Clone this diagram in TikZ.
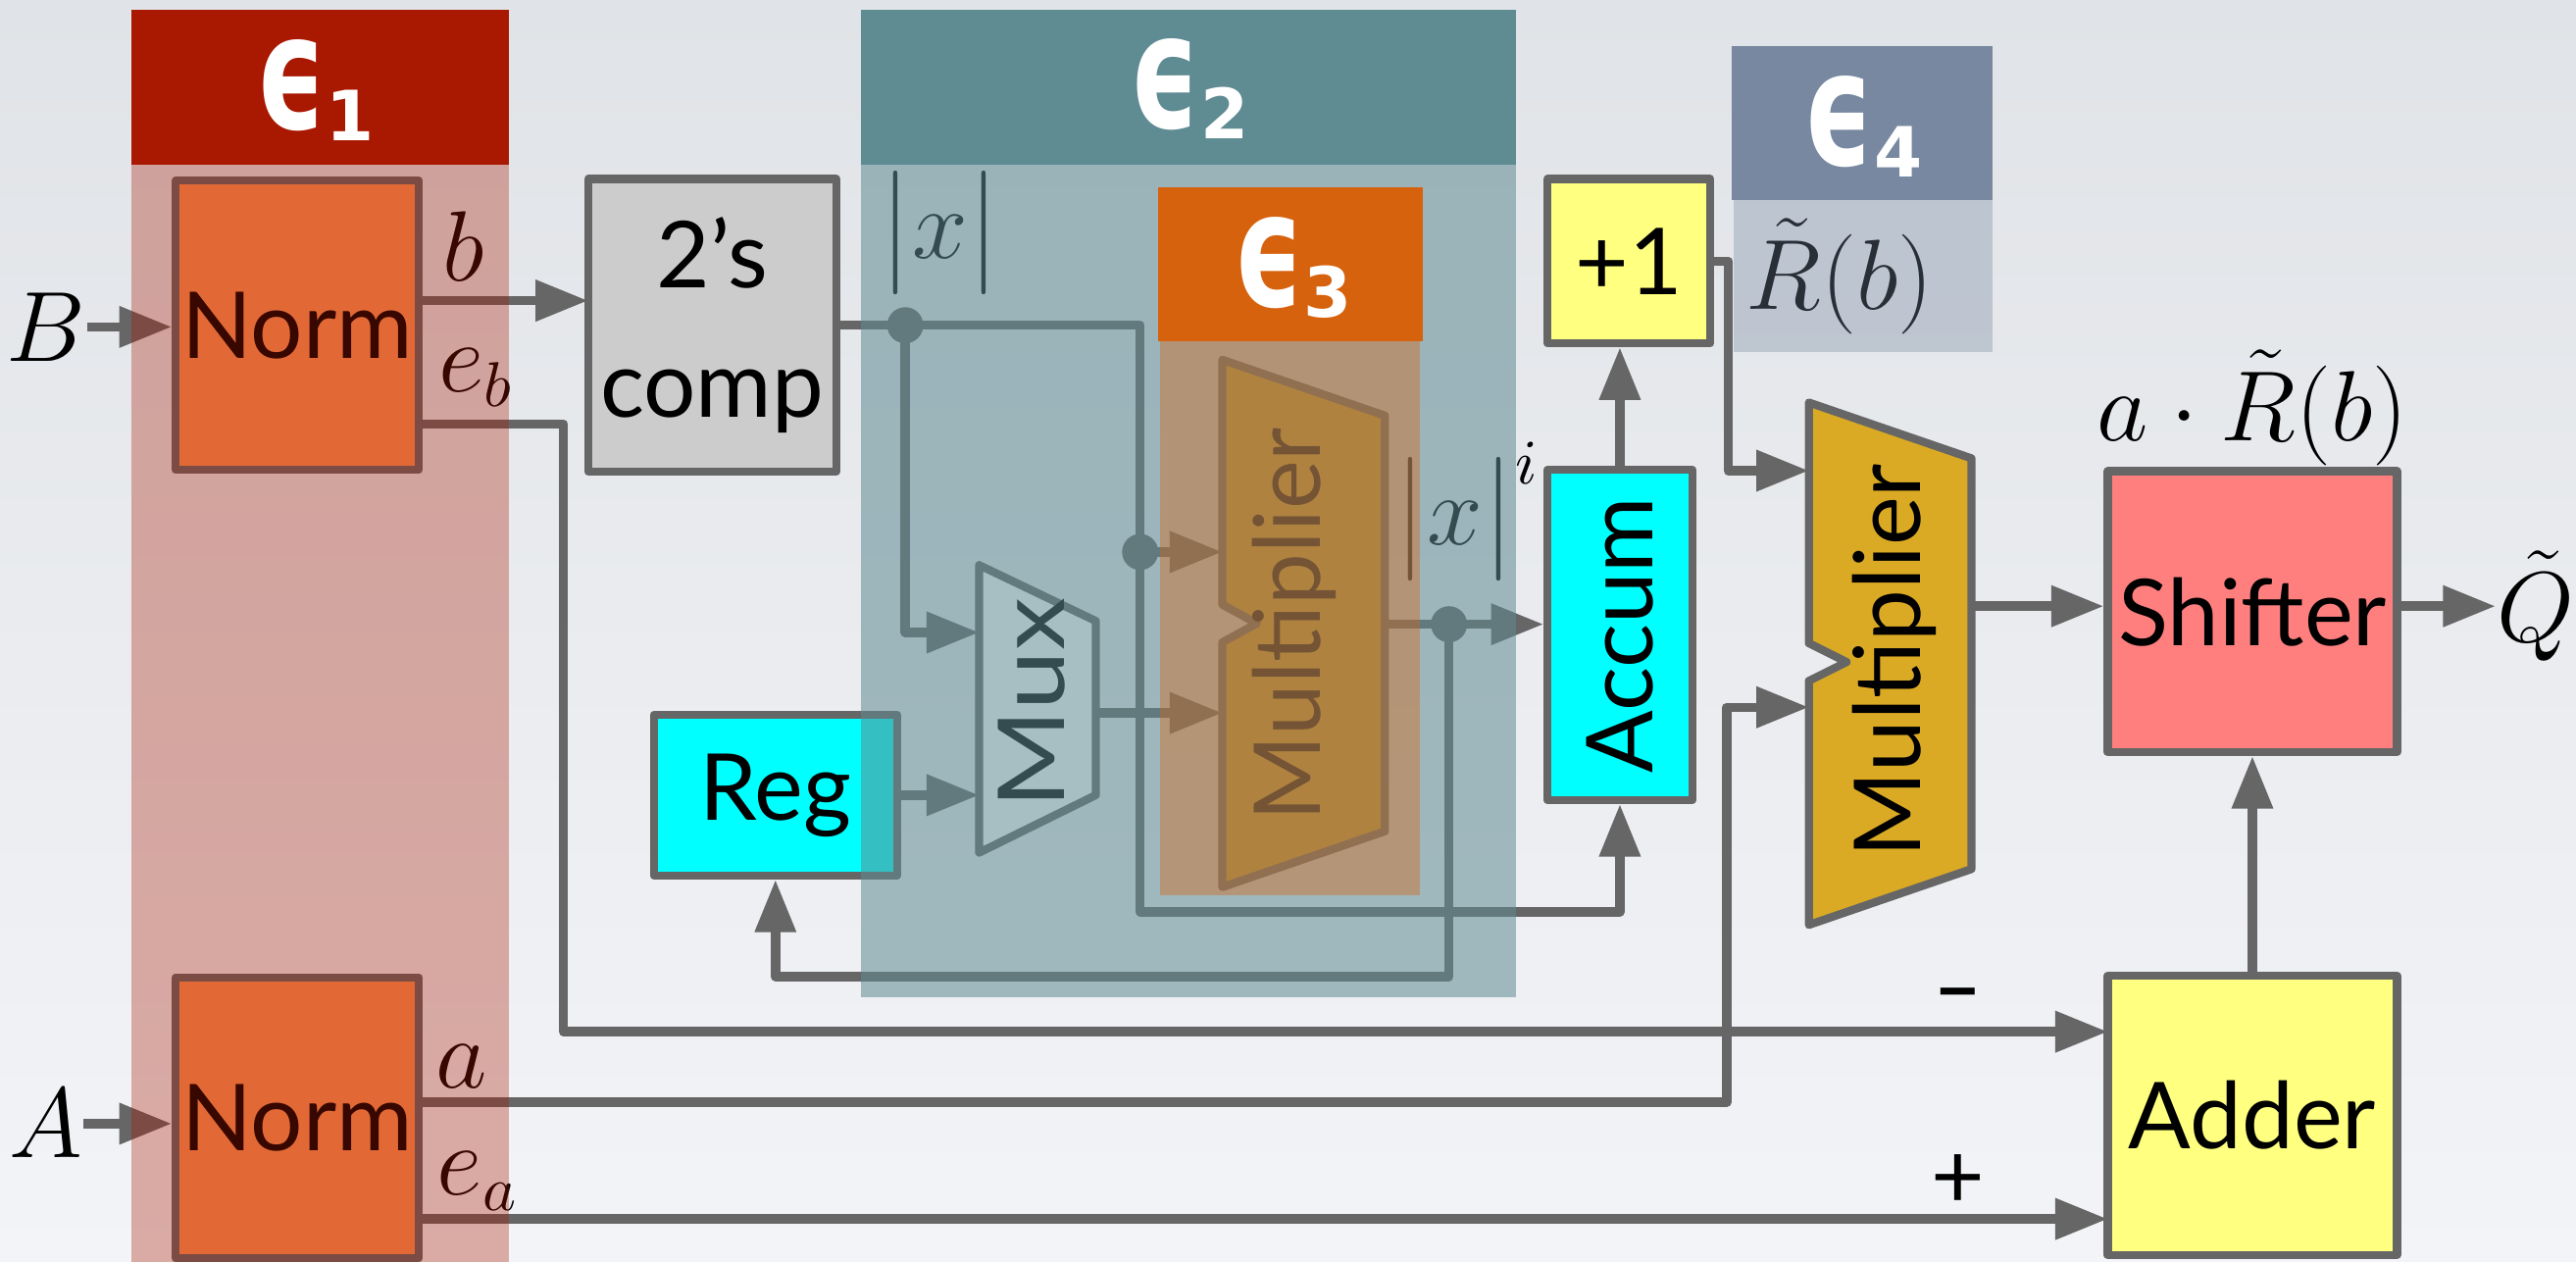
\documentclass[tikz,border=0pt]{standalone}
\usepackage{fontspec}
\setsansfont{Lato}
\newfontfamily\hdrfont{DejaVu Sans}
\usepackage{amsmath}
\usepackage{graphicx}
\usepackage{xcolor}
\usepackage{tikz}
\usetikzlibrary{arrows.meta, positioning}

\definecolor{wiregray}{RGB}{102,102,102}
\definecolor{bgtop}{RGB}{224,227,231}
\definecolor{bgbot}{RGB}{243,244,247}
\definecolor{normfill}{RGB}{255,146,81}
\definecolor{compfill}{RGB}{204,204,204}
\definecolor{regfill}{RGB}{0,255,255}
\definecolor{plusfill}{RGB}{255,255,128}
\definecolor{shiftfill}{RGB}{255,127,127}
\definecolor{multfill}{RGB}{219,170,37}
\definecolor{eonecol}{RGB}{169,24,0}
\definecolor{etwocol}{RGB}{95,139,147}
\definecolor{ethreecol}{RGB}{214,98,14}
\definecolor{efourcol}{RGB}{119,136,160}

\newcommand{\boxfont}{\sffamily\fontsize{16}{22.5}\selectfont}
\newcommand{\mathsize}{\fontsize{16}{19}\selectfont}
\newcommand{\epsl}[1]{{\hdrfont\bfseries\fontsize{23}{24}\selectfont\scalebox{0.82}[1.2]{ϵ}\raisebox{-0.7mm}{\fontsize{12}{12}\selectfont #1}}}

\begin{document}
\begin{tikzpicture}[>={Triangle[length=3.2mm,width=2.4mm]}, line join=round,
    sig/.style={draw=wiregray, line width=1.6pt},
    blk/.style={draw=wiregray, line width=1.4pt, font=\boxfont, inner sep=0pt, align=center},
    trap/.style={draw=wiregray, line width=1.4pt},
    joint/.style={circle, fill=wiregray, inner sep=0pt, minimum size=2.2mm},
    lbl/.style={font=\mathsize, inner sep=0pt},
    hdr/.style={text=white, inner sep=0pt}]

    % 1. Background
    \useasboundingbox (0,0) rectangle (15.68,7.68);
    \shade[top color=bgtop, bottom color=bgbot] (0,0) rectangle (15.68,7.68);

    % 2. Blocks
    \node[blk, fill=normfill, minimum width=1.48cm, minimum height=1.76cm] (normB) at (1.81,5.70) {Norm};
    \node[blk, fill=normfill, minimum width=1.48cm, minimum height=1.71cm] (normA) at (1.81,0.875) {Norm};
    \node[blk, fill=compfill, minimum width=1.51cm, minimum height=1.78cm] (comp) at (4.335,5.70) {2’s\\comp};
    \node[blk, fill=regfill, minimum width=1.48cm, minimum height=0.98cm] (reg) at (4.72,2.84) {Reg};
    \node[blk, fill=regfill, minimum width=0.88cm, minimum height=2.01cm] (accum) at (9.86,3.815) {\rotatebox{90}{Accum}};
    \node[blk, fill=plusfill, minimum width=0.99cm, minimum height=1.00cm] (plusone) at (9.915,6.09) {+1};
    \node[blk, fill=shiftfill, minimum width=1.76cm, minimum height=1.71cm] (shifter) at (13.71,3.957) {Shifter};
    \node[blk, fill=plusfill, minimum width=1.76cm, minimum height=1.70cm] (adder) at (13.71,0.89) {Adder};

    % 3. Mux and the two multipliers
    \filldraw[trap, fill=white] (5.96,4.24) -- (6.67,3.90) -- (6.67,2.84) -- (5.96,2.49) -- cycle;
    \node[font=\boxfont, rotate=90] (muxlbl) at (6.28,3.40) {\scalebox{1.15}[1]{Mux}};
    \filldraw[trap, fill=multfill] (7.44,5.49) -- (8.43,5.15) -- (8.43,2.62) -- (7.44,2.28)
        -- (7.44,3.77) -- (7.65,3.885) -- (7.44,4.00) -- cycle;
    \node[font=\boxfont, rotate=90] (mulone) at (7.875,3.88) {Multiplier};
    \filldraw[trap, fill=multfill] (11.01,5.23) -- (12.00,4.89) -- (12.00,2.39) -- (11.01,2.05)
        -- (11.01,3.535) -- (11.24,3.65) -- (11.01,3.765) -- cycle;
    \node[font=\boxfont, rotate=90] (multwo) at (11.53,3.66) {Multiplier};

    \coordinate (muxin1) at (5.96,3.83);
    \coordinate (muxin2) at (5.96,2.84);
    \coordinate (muxout) at (6.67,3.34);
    \coordinate (m1in1) at (7.44,4.32);
    \coordinate (m1in2) at (7.44,3.34);
    \coordinate (m1out) at (8.43,3.88);
    \coordinate (m2in1) at (11.01,4.815);
    \coordinate (m2in2) at (11.01,3.375);
    \coordinate (m2out) at (12.00,3.99);

    % 4. Labels
    \node[lbl] (Blab) at (0.28,5.69) {$B$};
    \node[lbl] (Alab) at (0.28,0.84) {$A$};
    \node[lbl] (blab) at (2.82,6.18) {$b$};
    \node[lbl] (eblab) at (2.90,5.38) {$e_b$};
    \node[lbl] (alab) at (2.81,1.19) {$a$};
    \node[lbl] (ealab) at (2.91,0.49) {$e_a$};
    \node[lbl] (xabs) at (5.72,6.26) {$\bigl|x\bigr|$};
    \node[lbl] (xpow) at (8.93,4.57) {$\bigl|x\bigr|^i$};
    \node[lbl] (rtil) at (11.20,6.00) {$\tilde{R}(b)$};
    \node[lbl] (arlab) at (13.71,5.20) {$a\cdot\tilde{R}(b)$};
    \node[lbl, font=\boxfont] (minus) at (11.92,1.57) {\scalebox{1.5}[1]{-}};
    \node[lbl, font=\boxfont] (plus) at (11.92,0.49) {+};
    \node[lbl, anchor=west] (qlab) at (15.19,3.99) {$\tilde{Q}$};

    % 5. Wires
    \node[joint] (j1) at (5.51,5.70) {};
    \node[joint] (j2) at (6.94,4.32) {};
    \node[joint] (j3) at (8.82,3.88) {};
    \coordinate (bw) at (3.58,5.85);
    \coordinate (ebbend) at (3.43,5.10);
    \coordinate (addm) at (12.83,1.40);
    \coordinate (abend) at (10.51,0.97);
    \coordinate (addp) at (12.83,0.26);
    \coordinate (accbus) at (9.86,2.13);
    \coordinate (regbus) at (4.72,1.735);
    \coordinate (rbend) at (10.52,6.09);

    \draw[sig,->] (Blab.east) -- (normB.west |- Blab.east);
    \draw[sig,->] (Alab.east) -- (normA.west |- Alab.east);
    \draw[sig,->] (normB.east |- bw) -- (bw);
    \draw[sig] (comp.east) -- (j1.center) -| (j2.center);
    \draw[sig,->] (j2.center) -- (m1in1);
    \draw[sig,->] (j1.center) |- (muxin1);
    \draw[sig,->] (reg.east) -- (muxin2);
    \draw[sig,->] (muxout) -- (m1in2);
    \draw[sig] (m1out) -- (j3.center);
    \draw[sig,->] (j3.center) -- (accum.west |- j3);
    \draw[sig,->] (j2.center) |- (accbus) -- (accum.south);
    \draw[sig,->] (j3.center) |- (regbus) -- (reg.south);
    \draw[sig,->] (accum.north) -- (accum.north |- plusone.south);
    \draw[sig,->] (plusone.east) -- (rbend) |- (m2in1);
    \draw[sig,->] (m2out) -- (shifter.west |- m2out);
    \draw[sig,->] (shifter.east |- m2out) -- (qlab.west);
    \draw[sig,->] (adder.north) -- (shifter.south);
    \draw[sig,->] (normB.east |- ebbend) -- (ebbend) |- (addm);
    \draw[sig,->] (normA.east |- abend) -- (abend) |- (m2in2);
    \draw[sig,->] (normA.east |- addp) -- (addp);

    % 6. Shaded regions
    \fill[eonecol, fill opacity=0.33] (0.80,0) rectangle (3.10,6.68);
    \fill[etwocol, fill opacity=0.55] (5.24,1.61) rectangle (9.23,6.68);
    \fill[ethreecol, fill opacity=0.40] (7.06,2.23) rectangle (8.64,5.60);
    \fill[efourcol, fill opacity=0.35] (10.55,5.54) rectangle (12.13,6.46);

    % 7. Headers
    \fill[eonecol] (0.80,6.68) rectangle (3.10,7.62);
    \fill[etwocol] (5.24,6.68) rectangle (9.23,7.62);
    \fill[ethreecol] (7.05,5.60) rectangle (8.66,6.54);
    \fill[efourcol] (10.54,6.46) rectangle (12.13,7.40);
    \node[hdr] (eonelab) at (1.92,7.13) {\epsl{1}};
    \node[hdr] (etwolab) at (7.24,7.14) {\epsl{2}};
    \node[hdr] (ethreelab) at (7.87,6.05) {\epsl{3}};
    \node[hdr] (efourlab) at (11.34,6.91) {\epsl{4}};
\end{tikzpicture}
\end{document}
